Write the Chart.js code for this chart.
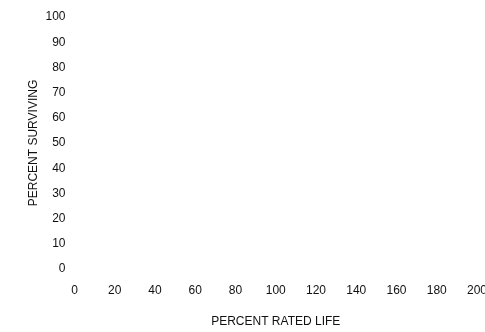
<!DOCTYPE html>
<html>
<head>
<meta charset="utf-8">
<script src="https://cdn.jsdelivr.net/npm/chart.js@4/dist/chart.umd.min.js"></script>
<style>
  html, body { margin: 0; padding: 0; background: #fff; }
  canvas { display: block; }
</style>
</head>
<body>
<canvas id="lifeChart" width="485" height="332"></canvas>
<script>
// axis ticks as printed on the sheet
const xTicks = [0, 20, 40, 60, 80, 100, 120, 140, 160, 180, 200];
const yTicks = [0, 10, 20, 30, 40, 50, 60, 70, 80, 90, 100];
// the survival curve is blank on this sheet
const survivalPoints = [];

const xTitle = "PERCENT RATED LIFE";
const yTitle = "PERCENT SURVIVING";

const font = { family: "'Liberation Sans', Arial, Helvetica, sans-serif", size: 12 };
const ink = "#111";

new Chart(document.getElementById("lifeChart"), {
  type: "scatter",
  data: {
    datasets: [{ data: survivalPoints, borderColor: ink, backgroundColor: ink }]
  },
  options: {
    responsive: false,
    animation: false,
    events: [],
    layout: { padding: { left: 0, right: 8, top: 17, bottom: 0 } },
    plugins: { legend: { display: false }, tooltip: { enabled: false } },
    scales: {
      x: {
        type: "linear",
        min: xTicks[0],
        max: xTicks[xTicks.length - 1],
        grid: { display: false, drawTicks: false },
        border: { display: false },
        ticks: { color: ink, font, padding: 14, maxRotation: 0, autoSkip: false },
        title: { display: true, text: xTitle, color: ink, font, padding: { top: 3, bottom: 3 } },
        afterBuildTicks: s => { s.ticks = xTicks.map(v => ({ value: v })); },
        afterFit: s => { s.height = 63; s.paddingLeft = 0; s.paddingRight = 0; }
      },
      y: {
        type: "linear",
        min: yTicks[0],
        max: yTicks[yTicks.length - 1],
        grid: { display: false, drawTicks: false },
        border: { display: false },
        ticks: { color: ink, font, padding: 9, autoSkip: false },
        title: { display: true, text: yTitle, color: ink, font, padding: { top: 26, bottom: 0 } },
        afterBuildTicks: s => { s.ticks = yTicks.map(v => ({ value: v })); },
        afterFit: s => { s.width = 74.5; s.paddingTop = 0; s.paddingBottom = 0; }
      }
    }
  }
});
</script>
</body>
</html>
